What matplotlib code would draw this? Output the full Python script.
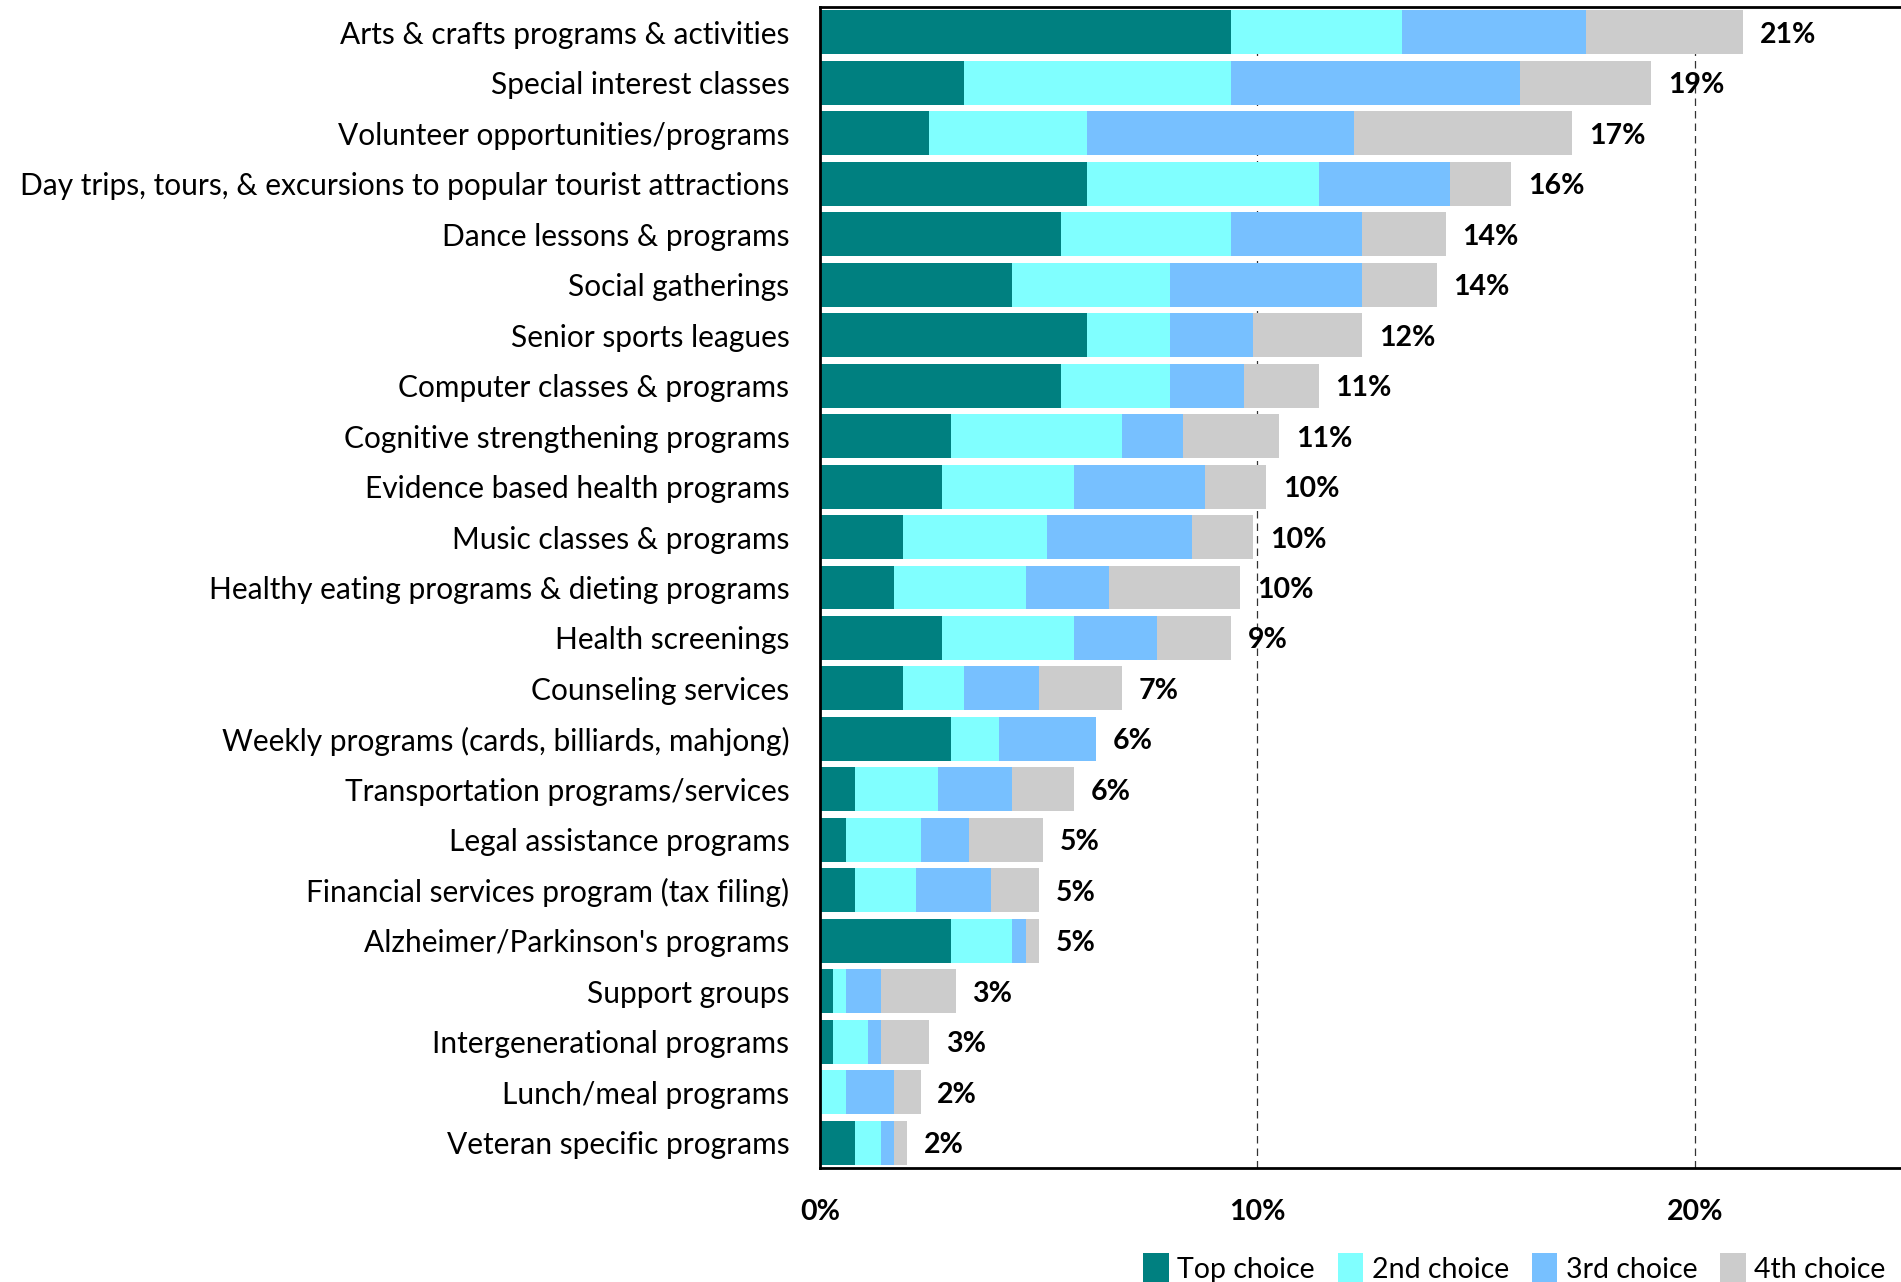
import numpy as np
import matplotlib
matplotlib.use("Agg")
import matplotlib.pyplot as plt
from matplotlib.patches import Patch

plt.rcParams["font.family"] = ["Lato", "DejaVu Sans"]

# ---- data (percent of respondents) ----
categories = [
    "Arts & crafts programs & activities",
    "Special interest classes",
    "Volunteer opportunities/programs",
    "Day trips, tours, & excursions to popular tourist attractions",
    "Dance lessons & programs",
    "Social gatherings",
    "Senior sports leagues",
    "Computer classes & programs",
    "Cognitive strengthening programs",
    "Evidence based health programs",
    "Music classes & programs",
    "Healthy eating programs & dieting programs",
    "Health screenings",
    "Counseling services",
    "Weekly programs (cards, billiards, mahjong)",
    "Transportation programs/services",
    "Legal assistance programs",
    "Financial services program (tax filing)",
    "Alzheimer/Parkinson's programs",
    "Support groups",
    "Intergenerational programs",
    "Lunch/meal programs",
    "Veteran specific programs",
]
top_choice = [9.4, 3.3, 2.5, 6.1, 5.5, 4.4, 6.1, 5.5, 3.0, 2.8, 1.9, 1.7,
              2.8, 1.9, 3.0, 0.8, 0.6, 0.8, 3.0, 0.3, 0.3, 0.0, 0.8]
second_choice = [3.9, 6.1, 3.6, 5.3, 3.9, 3.6, 1.9, 2.5, 3.9, 3.0, 3.3, 3.0,
                 3.0, 1.4, 1.1, 1.9, 1.7, 1.4, 1.4, 0.3, 0.8, 0.6, 0.6]
third_choice = [4.2, 6.6, 6.1, 3.0, 3.0, 4.4, 1.9, 1.7, 1.4, 3.0, 3.3, 1.9,
                1.9, 1.7, 2.2, 1.7, 1.1, 1.7, 0.3, 0.8, 0.3, 1.1, 0.3]
fourth_choice = [3.6, 3.0, 5.0, 1.4, 1.9, 1.7, 2.5, 1.7, 2.2, 1.4, 1.4, 3.0,
                 1.7, 1.9, 0.0, 1.4, 1.7, 1.1, 0.3, 1.7, 1.1, 0.6, 0.3]
total_labels = ["21%", "19%", "17%", "16%", "14%", "14%", "12%", "11%", "11%",
                "10%", "10%", "10%", "9%", "7%", "6%", "6%", "5%", "5%", "5%",
                "3%", "3%", "2%", "2%"]

series_names = ["Top choice", "2nd choice", "3rd choice", "4th choice"]
colors = ["#008080", "#80FFFF", "#77C0FF", "#CCCCCC"]

# ---- plot ----
fig = plt.figure(figsize=(19.01, 12.82), dpi=100)
ax = fig.add_axes([820 / 1901, 1 - 1168 / 1282, 1 - 820 / 1901, (1168 - 7) / 1282])

y = np.arange(len(categories))
left = np.zeros(len(categories))
for vals, name, col in zip([top_choice, second_choice, third_choice, fourth_choice],
                           series_names, colors):
    vals = np.array(vals)
    ax.barh(y, vals, left=left, height=0.87, color=col, label=name, zorder=2)
    left += vals

# total labels at the end of each bar
for yi, tot, lab in zip(y, left, total_labels):
    ax.annotate(lab, (tot, yi), xytext=(12, 0), textcoords="offset points",
                va="center_baseline", ha="left", fontsize=20.5, fontweight="bold")

ax.set_ylim(len(categories) - 0.5, -0.5)
ax.set_xlim(0, 24.71)
ax.set_xticks([0, 10, 20])
ax.set_xticklabels(["0%", "10%", "20%"], fontsize=20.5, fontweight="bold")
ax.set_yticks(y)
ax.set_yticklabels(categories, fontsize=21.5)
ax.tick_params(axis="both", length=0)
ax.tick_params(axis="y", pad=22)
ax.tick_params(axis="x", pad=22)

for xv in [10, 20]:
    ax.axvline(xv, color="#333333", linestyle=(0, (6, 4)), linewidth=0.9, zorder=1)

for s in ["left", "top", "bottom"]:
    ax.spines[s].set_linewidth(2.0)
    ax.spines[s].set_color("black")
ax.spines["right"].set_visible(False)

handles = [Patch(facecolor=c, label=n) for c, n in zip(colors, series_names)]
fig.legend(handles=handles, loc="center right", bbox_to_anchor=(0.998, 1 - 1268 / 1282),
           ncol=4, frameon=False, fontsize=20.5, handlelength=0.9, handleheight=1.2,
           handletextpad=0.3, columnspacing=0.8, borderaxespad=0)

fig.savefig("out.png", dpi=100)
